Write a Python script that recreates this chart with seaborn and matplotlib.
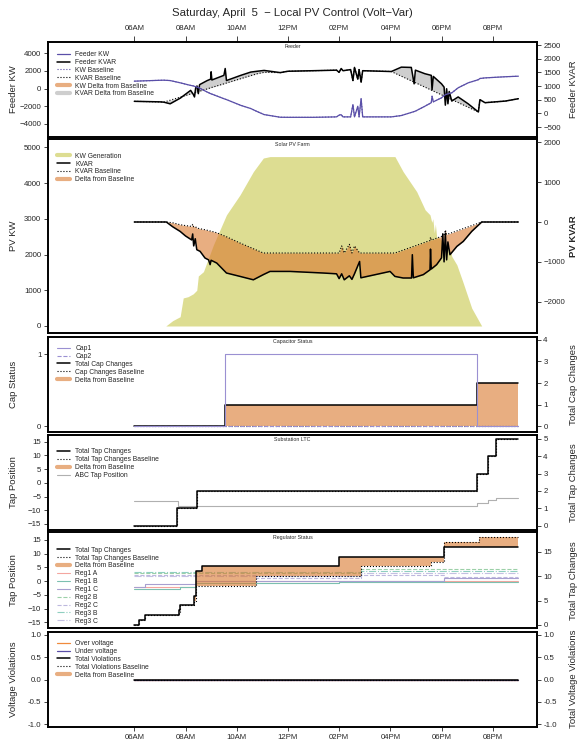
import matplotlib
matplotlib.use("Agg")
import matplotlib.pyplot as plt
from matplotlib.lines import Line2D
import seaborn as sns

# time axis, hours of the day
hour_ticks = [6, 8, 10, 12, 14, 16, 18, 20]
hour_labels = ["06AM", "08AM", "10AM", "12PM", "02PM", "04PM", "06PM", "08PM"]

# Feeder
feeder_t = [6.0, 7.0, 7.15, 7.4, 7.8, 8.2, 8.3, 8.35, 8.4, 8.45, 8.5, 8.55, 8.65, 8.85, 8.98, 9.0,
            9.03, 9.5, 9.55, 9.6, 10.16, 10.55, 10.8, 11.07, 11.7, 12.0, 13.0, 13.9, 14.0, 14.08,
            14.15, 14.45, 14.54, 14.6, 14.73, 14.78, 14.86, 14.92, 16.04, 16.43, 16.82, 16.93,
            16.98, 17.35, 17.6, 17.63, 17.68, 18.0, 18.1, 18.15, 18.2, 18.25, 18.3, 18.4, 18.65,
            19.04, 19.44, 19.5, 19.7, 20.5, 21.0]
feeder_kw = [830, 930, 940, 900, 640, 350, 300, 250, 210, 150, 120, 60, -110, -400, -580, -600,
             -630, -1150, -1200, -1250, -1900, -2260, -2600, -2940, -3240, -3250, -3250, -3200,
             -3000, -2950, -3200, -3200, -1810, -3200, -2000, -3200, -1130, -3200, -3200, -3050,
             -2700, -2600, -2550, -2000, -1600, -870, -1500, -1050, -800, -700, -650, -600, -550,
             -490, 80, 640, 1000, 1130, 1200, 1330, 1390]
feeder_kvar = [440, 420, 410, 350, 560, 840, 700, 600, 950, 1000, 720, 1050, 1100, 1200, 1250, 1520,
               1220, 1390, 1640, 1200, 1390, 1510, 1540, 1570, 1490, 1540, 1560, 1580, 1500, 1640,
               1560, 1600, 1200, 1680, 1250, 1600, 1140, 1560, 1530, 1690, 1680, 1080, 1580, 1450,
               1390, 860, 1350, 1080, 960, 300, 900, 350, 800, 450, 600, 350, 50, 500, 390, 450, 535]
feeder_kvar_base = [440, 420, 410, 480, 595, 710, 735, 750, 765, 780, 795, 810, 840, 895, 935, 940,
                    950, 1080, 1095, 1110, 1270, 1380, 1450, 1500, 1490, 1540, 1560, 1580, 1500, 1640,
                    1560, 1600, 1200, 1680, 1250, 1600, 1140, 1560, 1530, 1360, 1190, 1143, 1121, 960,
                    851, 838, 817, 677, 634, 612, 590, 569, 547, 503, 395, 225, 51, 500, 390, 450, 535]
feeder_kw_base = list(feeder_kw)

# Solar PV farm
pv_gen_t = [6.0, 7.23, 7.5, 7.79, 7.91, 8.1, 8.3, 8.44, 8.5, 8.7, 9.09, 9.6, 10.13, 10.65, 11.04,
            11.3, 16.18, 16.5, 17.03, 17.36, 17.55, 17.62, 17.66, 17.72, 17.76, 17.81, 18.0, 18.2,
            18.35, 18.4, 18.6, 18.85, 19.18, 19.57, 21.0]
pv_gen_kw = [0, 0, 150, 260, 785, 820, 900, 1000, 1400, 1520, 2270, 3110, 3670, 4320, 4700,
             4740, 4740, 4320, 3760, 3250, 3110, 2900, 3000, 2600, 2850, 2500, 2400, 2270,
             2100, 1950, 1710, 1200, 500, 0, 0]
pv_t = [6.0, 7.25, 7.5, 7.79, 8.0, 8.24, 8.28, 8.32, 8.38, 8.44, 8.57, 8.76, 8.9, 8.96, 9.0, 9.22,
        9.6, 10.13, 10.65, 11.04, 11.3, 12.08, 13.38, 13.9, 14.0, 14.1, 14.2, 14.4, 14.5, 14.6,
        14.8, 14.85, 15.99, 16.18, 16.5, 16.83, 16.86, 16.9, 17.29, 17.55, 17.57, 17.6, 17.81,
        18.0, 18.05, 18.1, 18.15, 18.2, 18.25, 18.33, 18.6, 18.85, 19.18, 19.57, 21.0]
pv_kvar = [0, 0, -120, -236, -350, -450, -300, -600, -420, -695, -737, -903, -950, -1070, -960,
           -1030, -1280, -1365, -1450, -1320, -1240, -1240, -1280, -1300, -1420, -1300, -1450,
           -1350, -1440, -1300, -990, -1400, -1240, -1365, -1405, -1405, -820, -1400, -1320,
           -1200, -680, -1180, -1070, -900, -300, -1000, -280, -950, -500, -820, -612, -486,
           -236, 0, 0]
pv_kvar_base = [0, 0, -20, -68, -90, -110, -60, -120, -110, -150, -170, -193, -215, -225, -230,
                -270, -370, -527, -670, -778, -778, -778, -778, -778, -778, -600, -778, -560,
                -778, -600, -778, -778, -778, -778, -705, -630, -623, -614, -524, -464, -380,
                -455, -405, -361, -300, -340, -200, -315, -300, -285, -223, -165, -90, 0, 0]

# Capacitor
cap_t = [6.0, 9.54, 19.37, 21.0]
cap1 = [0, 1, 0, 0]
cap2 = [0, 0, 0, 0]
cap_changes = [0, 1, 2, 2]
cap_changes_base = [0, 0, 0, 0]

# Substation LTC
ltc_t = [6.0, 7.66, 8.44, 19.37, 19.82, 20.12, 21.0]
ltc_changes = [0, 1, 2, 3, 4, 5, 5]
ltc_changes_base = [0, 1, 2, 3, 4, 5, 5]
abc_t = [6.0, 7.72, 19.37, 19.82, 20.12, 21.0]
abc_tap = [-6.7, -8.4, -7.4, -6.4, -5.6, -5.6]

# Regulators
reg_t = [6.0, 6.17, 6.43, 7.74, 7.8, 8.33, 8.42, 8.65, 10.75, 14.0, 14.86, 17.6, 18.1, 19.46, 21.0]
reg_changes = [0, 1, 2, 3, 4, 6, 11, 12, 12, 14, 14, 14, 16, 16, 16]
reg_changes_base = [0, 1, 2, 2.6, 4, 5, 8, 8, 10, 10, 12, 13, 17, 18, 18]
reg1a = [-2.0, -2.0, -2.0, -2.0, -2.0, -2.0, 0.0, 0.0, 0.0, 0.0, 0.0, 0.0, 0.0, 0.0, 0.0]
reg1b = [-2.7, -2.7, -2.7, -2.7, -2.2, -2.2, -0.6, -0.6, -0.6, -0.2, -0.2, -0.2, -0.2, -0.2, -0.2]
reg1c = [-2.2, -2.2, -0.9, -0.9, -0.9, -0.9, 0.2, 0.2, 0.2, 0.2, 0.2, 0.2, 1.0, 1.0, 1.0]
reg2b = [3.0, 3.0, 3.0, 3.0, 3.0, 3.0, 3.0, 3.0, 3.0, 3.0, 4.3, 4.3, 4.3, 4.3, 4.3]
reg2c = [2.4, 2.4, 2.4, 2.4, 2.4, 2.4, 2.4, 2.4, 1.0, 1.0, 2.4, 2.4, 1.6, 1.6, 1.6]
reg3b = [3.4, 3.4, 3.4, 3.4, 3.4, 3.4, 3.4, 3.4, 3.4, 3.4, 3.6, 3.6, 3.6, 3.6, 3.6]
reg3c = [2.0, 2.0, 2.0, 2.0, 2.0, 2.0, 2.0, 2.0, 2.0, 2.0, 3.0, 3.0, 3.0, 3.0, 3.0]

# Voltage violations
volt_t = [6.0, 21.0]
over_v = [0, 0]
under_v = [0, 0]
total_v = [0, 0]
total_v_base = [0, 0]

sns.set_style("white")
plt.rcParams["font.family"] = ["Liberation Sans", "DejaVu Sans"]

KW_BLUE = "#5a4fa8"
CAP_PURPLE = "#9a90d2"
ORANGE = (0.85, 0.47, 0.18)
OR_ALPHA = 0.6
GREY_FILL = "#cecece"
YELLOW = "#dddd92"

W, H = 580, 745
LEFT, RIGHT = 48.3, 537
XLIM = (2.64, 21.73)

fig = plt.figure(figsize=(W / 100, H / 100), dpi=100)
fig.patch.set_facecolor("white")


def line(ax, x, y, **kw):
    sns.lineplot(x=x, y=y, ax=ax, estimator=None, sort=False, **kw)


def panel(top, bottom, ylim, yticks, ylim2, yticks2, ylabel, ylabel2, title=None, bold2=False):
    ax = fig.add_axes([LEFT / W, 1 - bottom / H, (RIGHT - LEFT) / W, (bottom - top) / H])
    ax2 = ax.twinx()
    ax.patch.set_visible(False)
    for s in ax.spines.values():
        s.set_color("black")
        s.set_linewidth(1.4)
    for s in ax2.spines.values():
        s.set_visible(False)
    ax.set_xlim(*XLIM)
    ax.set_xticks(hour_ticks, hour_labels)
    ax.tick_params(axis="x", bottom=False, top=False, labelbottom=False, labeltop=False)
    ax.tick_params(axis="y", left=True, direction="out", length=3, width=0.6, pad=2, labelsize=5.7)
    ax2.tick_params(axis="y", right=True, direction="out", length=3, width=0.6, pad=1.5, labelsize=5.7)
    ax.set_meta = (ylim, yticks, ylim2, yticks2, ylabel, ylabel2, bold2)
    if title:
        ax.text(0.5, 1 - 4.8 / (bottom - top), title, transform=ax.transAxes,
                ha="center", va="center", fontsize=3.8, zorder=10)
    return ax, ax2


def finish(ax, ax2):
    ylim, yticks, ylim2, yticks2, ylabel, ylabel2, bold2 = ax.set_meta
    ax.set_ylim(*ylim)
    ax.set_yticks(yticks)
    ax2.set_ylim(*ylim2)
    ax2.set_yticks(yticks2)
    ax.set_xlim(*XLIM)
    ax.set_xlabel("")
    ax2.set_xlabel("")
    ax.set_ylabel(ylabel, fontsize=6.8)
    ax2.set_ylabel(ylabel2, fontsize=6.8, fontweight="bold" if bold2 else "normal")
    ax.yaxis.set_label_coords(-0.063, 0.5)
    ax2.yaxis.set_label_coords(1.066, 0.5)


def add_legend(ax, entries, first_row_px, panel_px):
    handles = [Line2D([], [], **kw) for kw, _ in entries]
    labels = [lab for _, lab in entries]
    ax.legend(handles, labels, loc="upper left",
              bbox_to_anchor=(8.4 / (RIGHT - LEFT), 1 - (first_row_px - 4) / panel_px),
              frameon=False, fontsize=4.9, handlelength=2.0, handletextpad=0.75,
              labelspacing=0.13, borderaxespad=0, borderpad=0)


def thick(color, alpha=1.0):
    return dict(color=color, alpha=alpha, lw=3.0, solid_capstyle="round")


# ---------------- Panel 1: Feeder ----------------
ax, ax2 = panel(42, 137, (-5470, 5250), [-4000, -2000, 0, 2000, 4000],
                (-865, 2610), [-500, 0, 500, 1000, 1500, 2000, 2500],
                "Feeder KW", "Feeder KVAR", "Feeder")
ax.set_zorder(3)
ax2.set_zorder(2)
ax2.fill_between(feeder_t, feeder_kvar, feeder_kvar_base, color=GREY_FILL, lw=0)
line(ax2, feeder_t, feeder_kvar_base, color="black", lw=0.8, linestyle=":")
line(ax2, feeder_t, feeder_kvar, color="black", lw=1.1)
line(ax, feeder_t, feeder_kw_base, color=KW_BLUE, lw=0.8, linestyle=":")
line(ax, feeder_t, feeder_kw, color=KW_BLUE, lw=0.9)
ax.tick_params(axis="x", top=True, labeltop=True, direction="out", length=4.5, width=0.6,
               pad=3, labelsize=5.6)
finish(ax, ax2)
add_legend(ax, [
    (dict(color=KW_BLUE, lw=0.9), "Feeder KW"),
    (dict(color="black", lw=1.1), "Feeder KVAR"),
    (dict(color=KW_BLUE, lw=0.8, linestyle=":"), "KW Baseline"),
    (dict(color="black", lw=0.8, linestyle=":"), "KVAR Baseline"),
    (thick(ORANGE, OR_ALPHA), "KW Delta from Baseline"),
    (thick(GREY_FILL), "KVAR Delta from Baseline"),
], 13, 95)

# ---------------- Panel 2: Solar PV farm ----------------
ax, ax2 = panel(139.3, 333, (-196, 5224), [0, 1000, 2000, 3000, 4000, 5000],
                (-2785, 2075), [-2000, -1000, 0, 1000, 2000],
                "PV KW", "PV KVAR", "Solar PV Farm", bold2=True)
ax.fill_between(pv_gen_t, pv_gen_kw, 0, color=YELLOW, lw=0)
ax2.fill_between(pv_t, pv_kvar, pv_kvar_base, color=ORANGE, alpha=OR_ALPHA, lw=0)
line(ax2, pv_t, pv_kvar_base, color="black", lw=0.8, linestyle=":")
line(ax2, pv_t, pv_kvar, color="black", lw=1.1)
finish(ax, ax2)
add_legend(ax2, [
    (thick(YELLOW), "KW Generation"),
    (dict(color="black", lw=1.1), "KVAR"),
    (dict(color="black", lw=0.8, linestyle=":"), "KVAR Baseline"),
    (thick(ORANGE, OR_ALPHA), "Delta from Baseline"),
], 17.4, 193.7)

# ---------------- Panel 3: Capacitor status ----------------
ax, ax2 = panel(336.7, 432, (-0.078, 1.245), [0, 1],
                (-0.26, 4.14), [0, 1, 2, 3, 4],
                "Cap Status", "Total Cap Changes", "Capacitor Status")
ax.set_zorder(3)
ax2.set_zorder(2)
ax2.fill_between(cap_t, cap_changes, cap_changes_base, step="post", color=ORANGE,
                 alpha=OR_ALPHA, lw=0)
line(ax2, cap_t, cap_changes_base, color="black", lw=0.8, linestyle=":", drawstyle="steps-post")
line(ax2, cap_t, cap_changes, color="black", lw=1.1, drawstyle="steps-post")
line(ax, cap_t, cap1, color=CAP_PURPLE, lw=0.8, drawstyle="steps-post")
line(ax, cap_t, cap2, color=CAP_PURPLE, lw=0.8, linestyle="--", drawstyle="steps-post")
finish(ax, ax2)
add_legend(ax, [
    (dict(color=CAP_PURPLE, lw=0.8), "Cap1"),
    (dict(color=CAP_PURPLE, lw=0.8, linestyle="--"), "Cap2"),
    (dict(color="black", lw=1.1), "Total Cap Changes"),
    (dict(color="black", lw=0.8, linestyle=":"), "Cap Changes Baseline"),
    (thick(ORANGE, OR_ALPHA), "Delta from Baseline"),
], 12.3, 95.3)

# ---------------- Panel 4: Substation LTC ----------------
ax, ax2 = panel(435, 530, (-17.2, 17.4), [-15, -10, -5, 0, 5, 10, 15],
                (-0.25, 5.23), [0, 1, 2, 3, 4, 5],
                "Tap Position", "Total Tap Changes", "Substation LTC")
line(ax, abc_t, abc_tap, color="#b0b0b0", lw=0.8, drawstyle="steps-post")
ax2.fill_between(ltc_t, ltc_changes, ltc_changes_base, step="post", color=ORANGE,
                 alpha=OR_ALPHA, lw=0)
line(ax2, ltc_t, ltc_changes_base, color="black", lw=0.8, linestyle=":", drawstyle="steps-post")
line(ax2, ltc_t, ltc_changes, color="black", lw=1.1, drawstyle="steps-post")
finish(ax, ax2)
add_legend(ax2, [
    (dict(color="black", lw=1.1), "Total Tap Changes"),
    (dict(color="black", lw=0.8, linestyle=":"), "Total Tap Changes Baseline"),
    (thick(ORANGE, OR_ALPHA), "Delta from Baseline"),
    (dict(color="#b0b0b0", lw=0.8), "ABC Tap Position"),
], 17.3, 95)

# ---------------- Panel 5: Regulator status ----------------
reg_styles = [
    (reg1a, dict(color="#f4a6a0", lw=0.8), "Reg1 A"),
    (reg1b, dict(color="#7cc0b0", lw=0.8), "Reg1 B"),
    (reg1c, dict(color="#a89fd0", lw=0.8), "Reg1 C"),
    (reg2b, dict(color="#9cd0a8", lw=0.8, linestyle="--"), "Reg2 B"),
    (reg2c, dict(color="#bdb8de", lw=0.8, linestyle="--"), "Reg2 C"),
    (reg3b, dict(color="#8fcfc0", lw=0.8, linestyle="-."), "Reg3 B"),
    (reg3c, dict(color="#c4c0e2", lw=0.8, linestyle="-."), "Reg3 C"),
]
ax, ax2 = panel(532.3, 628.3, (-17.2, 17.8), [-15, -10, -5, 0, 5, 10, 15],
                (-0.68, 19.0), [0, 5, 10, 15],
                "Tap Position", "Total Tap Changes", "Regulator Status")
for vals, st, _ in reg_styles:
    line(ax, reg_t, vals, drawstyle="steps-post", **st)
ax2.fill_between(reg_t, reg_changes, reg_changes_base, step="post", color=ORANGE,
                 alpha=OR_ALPHA, lw=0)
line(ax2, reg_t, reg_changes_base, color="black", lw=0.8, linestyle=":", drawstyle="steps-post")
line(ax2, reg_t, reg_changes, color="black", lw=1.1, drawstyle="steps-post")
finish(ax, ax2)
add_legend(ax2, [
    (dict(color="black", lw=1.1), "Total Tap Changes"),
    (dict(color="black", lw=0.8, linestyle=":"), "Total Tap Changes Baseline"),
    (thick(ORANGE, OR_ALPHA), "Delta from Baseline"),
] + [(st, lab) for _, st, lab in reg_styles], 18.4, 96)

# ---------------- Panel 6: Voltage violations ----------------
ax, ax2 = panel(631.7, 726.7, (-1.06, 1.074), [-1.0, -0.5, 0.0, 0.5, 1.0],
                (-1.06, 1.074), [-1.0, -0.5, 0.0, 0.5, 1.0],
                "Voltage Violations", "Total Voltage Violations")
line(ax, volt_t, over_v, color="#f08a3c", lw=0.9)
line(ax, volt_t, under_v, color=KW_BLUE, lw=0.9)
ax2.fill_between(volt_t, total_v, total_v_base, color=ORANGE, alpha=OR_ALPHA, lw=0)
line(ax2, volt_t, total_v_base, color="black", lw=0.8, linestyle=":")
line(ax2, volt_t, total_v, color="black", lw=1.1)
ax.tick_params(axis="x", bottom=True, labelbottom=True, direction="out", length=3, width=0.6,
               pad=2, labelsize=5.6)
finish(ax, ax2)
ax.yaxis.set_major_formatter(matplotlib.ticker.FormatStrFormatter("%.1f"))
ax2.yaxis.set_major_formatter(matplotlib.ticker.FormatStrFormatter("%.1f"))
add_legend(ax2, [
    (dict(color="#f08a3c", lw=0.9), "Over voltage"),
    (dict(color=KW_BLUE, lw=0.9), "Under voltage"),
    (dict(color="black", lw=1.1), "Total Violations"),
    (dict(color="black", lw=0.8, linestyle=":"), "Total Violations Baseline"),
    (thick(ORANGE, OR_ALPHA), "Delta from Baseline"),
], 12.3, 95)

fig.text(292 / W, 1 - 12.5 / H, "Saturday, April  5  \u2212 Local PV Control (Volt\u2212Var)",
         ha="center", va="center", fontsize=8.2)

fig.savefig("out.png", dpi=100)
